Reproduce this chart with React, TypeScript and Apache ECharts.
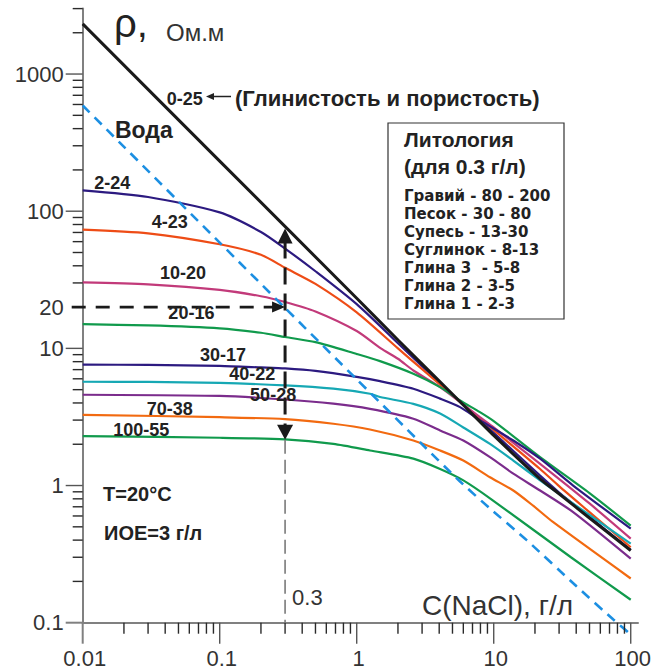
import React, { useEffect, useRef } from 'react';
import * as echarts from 'echarts';

// ---- axis extents ----
const X_MIN = 0.01;
const X_MAX = 113;
const Y_MIN = 0.1;
const Y_MAX = 3000;

// ---- tick values / labels ----
const xMajorTicks = [0.01, 0.1, 1, 10, 100];
const xTickLabels = ['0.01', '0.1', '1', '10', '100'];
const yMajorTicks = [0.1, 1, 10, 100, 1000];
const yTickLabels = ['0.1', '1', '10', '100', '1000'];
const yExtraLabelValues = [20];
const yExtraLabels = ['20'];
const minorMultipliers = [2, 3, 4, 5, 6, 7, 8, 9];
const xMinorDecades = [0.01, 0.1, 1, 10];
const yMinorDecades = [0.1, 1, 10, 100];
const yTopMinor = [2000, 3000];

// ---- curves: [C (g/l), rho (Ohm.m)] ----
const curve_0_25 = [[0.01, 2320], [0.1, 232], [1, 23.2], [2, 11.5], [5.68, 4.08], [10, 2.32], [21.8, 1.12], [30, 0.87], [50, 0.58], [100, 0.336]];
const curve_2_24 = [[0.01, 142], [0.03, 127], [0.1, 98], [0.2, 70.6], [0.3, 53.4], [0.5, 36.5], [1, 21.0], [2, 10.9], [3, 7.4], [5.68, 4.08], [10, 2.42], [21.8, 1.18], [30, 0.89], [50, 0.59], [100, 0.34]];
const curve_4_23 = [[0.01, 73.5], [0.03, 69], [0.1, 57.4], [0.2, 48.1], [0.3, 38.7], [0.5, 29.5], [1, 18.3], [2, 10.0], [3, 7.05], [5.68, 4.08], [10, 2.54], [21.8, 1.32], [30, 0.99], [50, 0.64], [100, 0.355]];
const curve_10_20 = [[0.01, 30.3], [0.03, 29.3], [0.1, 26.7], [0.2, 24.0], [0.3, 21.8], [0.5, 18.6], [1, 13.4], [1.5, 10.0], [2, 8.4], [2.59, 6.9], [4.06, 5.22], [5.68, 4.06], [7.93, 3.15], [10, 2.65], [21.8, 1.44], [50, 0.74], [100, 0.41]];
const curve_20_16 = [[0.01, 15.0], [0.03, 14.7], [0.1, 14.0], [0.2, 13.0], [0.3, 12.1], [0.5, 11.1], [1, 9.1], [1.48, 8.07], [2.59, 6.53], [4.06, 5.22], [5.68, 4.17], [7.93, 3.43], [10, 2.95], [21.8, 1.61], [50, 0.88], [100, 0.51]];
const curve_30_17 = [[0.01, 7.6], [0.03, 7.58], [0.1, 7.45], [0.2, 7.26], [0.3, 7.14], [0.5, 6.85], [1, 6.2], [1.48, 5.77], [2.59, 5.08], [4.06, 4.3], [5.68, 3.73], [7.93, 3.0], [13.9, 2.13], [21.8, 1.57], [38, 1.0], [100, 0.485]];
const curve_40_22 = [[0.01, 5.71], [0.03, 5.69], [0.1, 5.6], [0.3, 5.37], [0.675, 5.08], [1.25, 4.67], [1.48, 4.42], [2.59, 3.94], [4.06, 3.35], [6.0, 2.65], [9.39, 2.01], [13.9, 1.52], [21.8, 1.09], [30, 0.87], [50, 0.61], [100, 0.377]];
const curve_50_28 = [[0.01, 4.59], [0.1, 4.5], [0.3, 4.24], [0.675, 3.95], [1.25, 3.62], [2.59, 3.07], [4.06, 2.52], [6.0, 2.13], [9.39, 1.61], [13.9, 1.22], [21.8, 0.92], [38, 0.64], [100, 0.293]];
const curve_70_38 = [[0.01, 3.28], [0.1, 3.15], [0.3, 3.05], [0.675, 2.82], [1.25, 2.56], [2.59, 2.13], [4.06, 1.80], [6.0, 1.52], [9.39, 1.15], [13.9, 0.92], [19.5, 0.71], [27.2, 0.54], [100, 0.21]];
const curve_100_55 = [[0.01, 2.29], [0.1, 2.23], [0.3, 2.17], [0.675, 2.01], [1.25, 1.80], [2.59, 1.57], [4.06, 1.32], [6.0, 1.09], [9.5, 0.8], [36.6, 0.30], [100, 0.147]];
const water = [[0.01, 590], [0.1, 59], [0.3, 19.7], [1, 5.95], [3, 2.0], [5.68, 1.07], [9.39, 0.68], [17.4, 0.4], [40, 0.185], [75, 0.105], [100, 0.082]];

const curveNames = ['2-24', '4-23', '10-20', '20-16', '30-17', '40-22', '50-28', '70-38', '100-55'];
const curveData = [curve_2_24, curve_4_23, curve_10_20, curve_20_16, curve_30_17, curve_40_22, curve_50_28, curve_70_38, curve_100_55];
const curveColors = ['#2c1a80', '#ee4c16', '#c23a7a', '#109a4c', '#2c1a80', '#16a8b4', '#7b2c8c', '#f26a10', '#109a4c'];

// ---- annotation labels (anchored at data coordinates, left-middle) ----
const annoText = ['Вода', '0-25', '2-24', '4-23', '10-20', '20-16', '30-17', '40-22', '50-28', '70-38', '100-55'];
const annoC = [0.0172, 0.041, 0.01216, 0.0319, 0.0367, 0.0422, 0.0718, 0.1175, 0.1667, 0.0293, 0.01671];
const annoRho = [390, 657, 161, 83.1, 35.5, 18.1, 8.89, 6.46, 4.54, 3.61, 2.55];
const annoSize = [23, 18, 18, 18, 18, 18, 18, 18, 18, 18, 18];

// ---- marker arrows ----
const markerC = 0.3;
const markerLabel = '0.3';
const markerLabelRho = 0.152;
const vArrowTop = 74.8;
const vArrowBottom = 2.16;
const hArrowRho = 20;

// ---- legend box texts ----
const lithologyTitle = ['Литология', '(для 0.3 г/л)'];
const lithologyRows = ['Гравий - 80 - 200', 'Песок - 30 - 80', 'Супесь - 13-30', 'Суглинок - 8-13', 'Глина 3  - 5-8', 'Глина 2 - 3-5', 'Глина 1 - 2-3'];

const FONT = '"Liberation Sans", Arial, Helvetica, sans-serif';
const WIDE_FONT = '"DejaVu Sans", "Liberation Sans", sans-serif';
const TXT = '#222222';

type Tick = { v: number; axis: 'x' | 'y'; major: boolean };
const ticks: Tick[] = [];
xMajorTicks.forEach((v) => ticks.push({ v, axis: 'x', major: true }));
xMinorDecades.forEach((d) => minorMultipliers.forEach((m) => ticks.push({ v: +(d * m).toPrecision(3), axis: 'x', major: false })));
yMajorTicks.forEach((v) => ticks.push({ v, axis: 'y', major: true }));
yMinorDecades.forEach((d) => minorMultipliers.forEach((m) => ticks.push({ v: +(d * m).toPrecision(3), axis: 'y', major: false })));
yTopMinor.forEach((v) => ticks.push({ v, axis: 'y', major: false }));

type TLabel = { v: number; axis: 'x' | 'y'; text: string };
const tickLabels: TLabel[] = [];
xMajorTicks.forEach((v, i) => tickLabels.push({ v, axis: 'x', text: xTickLabels[i] }));
yMajorTicks.forEach((v, i) => tickLabels.push({ v, axis: 'y', text: yTickLabels[i] }));
yExtraLabelValues.forEach((v, i) => tickLabels.push({ v, axis: 'y', text: yExtraLabels[i] }));

function textStyle(text: string, font: string, align: string, vAlign: string, fill = TXT) {
  return { text, font, fill, align, textAlign: align, verticalAlign: vAlign, textVerticalAlign: vAlign };
}

function buildOption() {
  const lineSeries: any[] = curveData.map((d, i) => ({
    type: 'line',
    name: curveNames[i],
    data: d,
    smooth: 0.25,
    showSymbol: false,
    symbol: 'none',
    clip: false,
    silent: true,
    z: 3,
    lineStyle: { color: curveColors[i], width: 2.2 },
  }));
  lineSeries.push({
    type: 'line', name: '0-25', data: curve_0_25, smooth: 0.2, showSymbol: false, symbol: 'none',
    clip: false, silent: true, z: 4, lineStyle: { color: '#1a1a1a', width: 3 },
  });
  lineSeries.push({
    type: 'line', name: 'Вода', data: water, smooth: 0.2, showSymbol: false, symbol: 'none',
    clip: false, silent: true, z: 5, lineStyle: { color: '#1c8fe2', width: 2.6, type: [10, 7] },
  });

  const tickSeries = {
    type: 'custom',
    silent: true,
    clip: false,
    z: 6,
    data: ticks.map((t) => (t.axis === 'x' ? [t.v, Y_MIN] : [X_MIN, t.v])),
    renderItem: (params: any, api: any) => {
      const t = ticks[params.dataIndex];
      const p = api.coord([api.value(0), api.value(1)]);
      const corner = (t.axis === 'x' && t.v === X_MIN) || (t.axis === 'y' && t.v === Y_MIN);
      const len = t.axis === 'x' ? (t.major ? 21 : 11) : t.major ? 17 : 10;
      const shape = t.axis === 'x'
        ? { x1: p[0], y1: p[1], x2: p[0], y2: p[1] + len }
        : { x1: p[0], y1: p[1], x2: p[0] - len, y2: p[1] };
      return {
        type: 'line',
        shape,
        style: { stroke: corner ? '#808080' : t.major ? '#555555' : '#2a2a2a', lineWidth: corner ? 2 : 1.4 },
      };
    },
  };

  const labelSeries = {
    type: 'custom',
    silent: true,
    clip: false,
    z: 6,
    data: tickLabels.map((t) => (t.axis === 'x' ? [t.v, Y_MIN] : [X_MIN, t.v])),
    renderItem: (params: any, api: any) => {
      const t = tickLabels[params.dataIndex];
      const p = api.coord([api.value(0), api.value(1)]);
      if (t.axis === 'x') {
        return { type: 'text', x: p[0] + 2, y: p[1] + 36, style: textStyle(t.text, `22px ${FONT}`, 'center', 'middle', '#333') };
      }
      return { type: 'text', x: p[0] - 19, y: p[1], style: textStyle(t.text, `22px ${FONT}`, 'right', 'middle', '#333') };
    },
  };

  const arrowSeries = {
    type: 'custom',
    silent: true,
    clip: false,
    z: 7,
    data: [[markerC, vArrowTop]],
    renderItem: (params: any, api: any) => {
      const top = api.coord([markerC, vArrowTop]);
      const bot = api.coord([markerC, vArrowBottom]);
      const axisPt = api.coord([markerC, Y_MIN]);
      const hStart = api.coord([X_MIN, hArrowRho]);
      const hEnd = api.coord([markerC, hArrowRho]);
      const lab = api.coord([markerC, markerLabelRho]);
      const x = top[0];
      const dark = '#1a1a1a';
      return {
        type: 'group',
        children: [
          { type: 'line', shape: { x1: x, y1: bot[1], x2: x, y2: axisPt[1] }, style: { stroke: '#7a7a7a', lineWidth: 1.6, lineDash: [14, 6] } },
          { type: 'line', shape: { x1: x, y1: top[1] + 13, x2: x, y2: bot[1] - 14 }, style: { stroke: dark, lineWidth: 3, lineDash: [17, 9] } },
          { type: 'polygon', shape: { points: [[x, top[1]], [x - 7.5, top[1] + 15], [x + 7.5, top[1] + 15]] }, style: { fill: dark } },
          { type: 'polygon', shape: { points: [[x, bot[1]], [x - 8, bot[1] - 15], [x + 8, bot[1] - 15]] }, style: { fill: dark } },
          { type: 'line', shape: { x1: hStart[0] - 11, y1: hStart[1], x2: hEnd[0] - 12, y2: hEnd[1] }, style: { stroke: dark, lineWidth: 2.6, lineDash: [14, 10] } },
          { type: 'polygon', shape: { points: [[hEnd[0], hEnd[1]], [hEnd[0] - 13, hEnd[1] - 5.5], [hEnd[0] - 13, hEnd[1] + 5.5]] }, style: { fill: dark } },
          { type: 'text', x: lab[0] + 7, y: lab[1], style: textStyle(markerLabel, `22px ${FONT}`, 'left', 'middle', '#333') },
        ],
      };
    },
  };

  const annoSeries = {
    type: 'custom',
    silent: true,
    clip: false,
    z: 8,
    data: annoText.map((_, i) => [annoC[i], annoRho[i]]),
    renderItem: (params: any, api: any) => {
      const i = params.dataIndex;
      const p = api.coord([api.value(0), api.value(1)]);
      return { type: 'text', x: p[0], y: p[1], style: textStyle(annoText[i], `bold ${annoSize[i]}px ${FONT}`, 'left', 'middle', TXT) };
    },
  };

  const boxX = 388;
  const boxY = 123;
  const graphic: any[] = [
    { type: 'text', x: 114, y: 23, z: 20, style: textStyle('ρ,', `40px ${FONT}`, 'left', 'middle', TXT) },
    { type: 'text', x: 166, y: 32, z: 20, style: textStyle('Ом.м', `24px ${FONT}`, 'left', 'middle', '#333') },
    { type: 'text', x: 422, y: 605, z: 20, style: textStyle('C(NaCl), г/л', `28px ${FONT}`, 'left', 'middle', '#333') },
    { type: 'text', x: 235, y: 98, z: 20, style: textStyle('(Глинистость и пористость)', `bold 22px ${FONT}`, 'left', 'middle', TXT) },
    { type: 'line', z: 20, shape: { x1: 231, y1: 96.5, x2: 212, y2: 96.5 }, style: { stroke: TXT, lineWidth: 1.5 } },
    { type: 'polygon', z: 20, shape: { points: [[206, 96.5], [214, 93], [214, 100]] }, style: { fill: TXT } },
    { type: 'text', x: 103, y: 494, z: 20, style: textStyle('T=20°C', `bold 20px ${FONT}`, 'left', 'middle', TXT) },
    { type: 'text', x: 104, y: 533, z: 20, style: textStyle('ИОЕ=3 г/л', `bold 20px ${FONT}`, 'left', 'middle', TXT) },
    { type: 'rect', z: 19, shape: { x: boxX, y: boxY, width: 176, height: 196 }, style: { fill: '#ffffff', stroke: '#333333', lineWidth: 1.2 } },
    { type: 'text', x: 404, y: 139, z: 20, style: textStyle(lithologyTitle[0], `bold 21px ${FONT}`, 'left', 'middle', TXT) },
    { type: 'text', x: 404, y: 166, z: 20, style: textStyle(lithologyTitle[1], `bold 21px ${FONT}`, 'left', 'middle', TXT) },
  ];
  lithologyRows.forEach((r, i) => {
    graphic.push({ type: 'text', x: 404, y: 196 + i * 18, z: 20, style: textStyle(r, `bold 15px ${WIDE_FONT}`, 'left', 'middle', TXT) });
  });

  return {
    animation: false,
    backgroundColor: '#ffffff',
    grid: { left: 82.7, right: 17, top: 8.6, bottom: 47.3, containLabel: false, outerBoundsMode: 'none' },
    xAxis: {
      type: 'log', logBase: 10, min: X_MIN, max: X_MAX,
      axisLine: { show: true, onZero: false, lineStyle: { color: '#808080', width: 2 } },
      axisTick: { show: false }, axisLabel: { show: false }, splitLine: { show: false },
    },
    yAxis: {
      type: 'log', logBase: 10, min: Y_MIN, max: Y_MAX,
      axisLine: { show: true, onZero: false, lineStyle: { color: '#808080', width: 2 } },
      axisTick: { show: false }, axisLabel: { show: false }, splitLine: { show: false },
    },
    graphic,
    series: [...lineSeries, tickSeries, labelSeries, arrowSeries, annoSeries],
  };
}

export default function App() {
  const ref = useRef<HTMLDivElement>(null);
  useEffect(() => {
    if (!ref.current) return;
    const chart = echarts.init(ref.current, null, { renderer: 'svg' });
    chart.setOption(buildOption() as any);
    return () => chart.dispose();
  }, []);
  return (
    <div
      ref={ref}
      style={{ position: 'fixed', left: 0, top: 0, width: 655, height: 670, background: '#ffffff' }}
    />
  );
}
